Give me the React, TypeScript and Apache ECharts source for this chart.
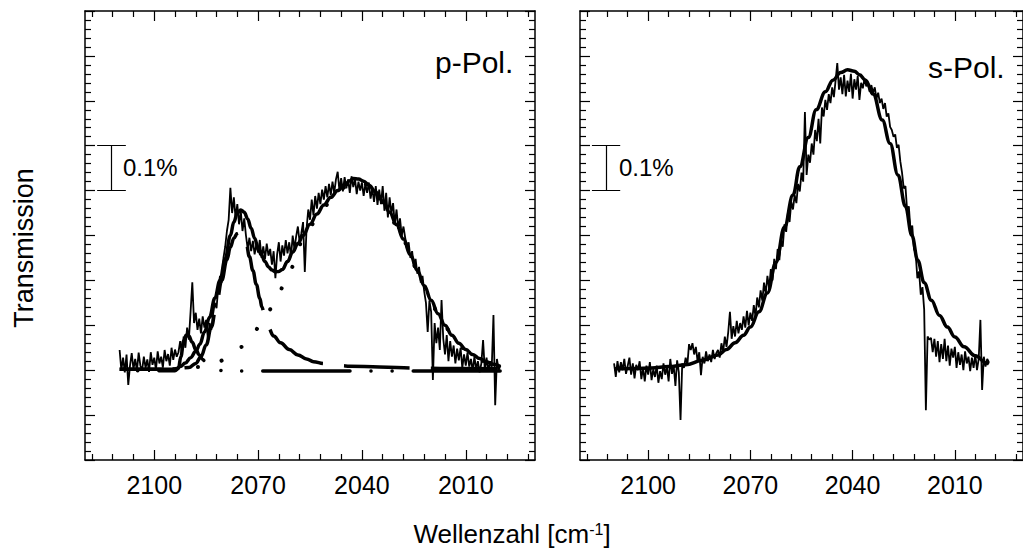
import React, { useEffect, useRef } from "react";
import * as echarts from "echarts";

// ---- data -------------------------------------------------------------
// wavenumber grid of the measured spectra (cm^-1), 0.5 cm^-1 steps
const waveStart = 2110;
const waveStep = -0.5;

// measured p-polarised spectrum (units of 0.01 %), 2110 -> 2000
const pPolMeasured = [
  24.5, 20.0, 22.8, 19.5, 23.5, 16.7, 21.0, 23.8, 20.2, 22.5, 19.8, 23.9, 21.0, 20.0, 23.0, 20.5, 22.4, 19.6, 24.0, 21.2,
  22.8, 20.1, 24.2, 21.5, 23.0, 20.6, 24.5, 22.0, 23.6, 21.0, 25.0, 22.3, 24.6, 23.0,
  24.0, 26.5, 23.8, 27.5, 25.0, 29.5, 26.8, 33.0, 39.6, 30.5, 32.8, 29.0, 31.5, 28.2, 32.0, 29.5, 31.2, 27.0, 30.5, 29.0,
  32.5, 35.0, 33.8, 38.5, 41.0, 39.5, 45.0, 47.5, 51.0, 53.5, 60.6, 55.0, 58.5, 53.8, 57.0, 52.5, 55.5, 51.0, 53.8,
  50.0, 47.0, 49.5, 46.5, 48.8, 45.8, 48.0, 46.2, 49.0, 45.0, 47.6, 44.8, 48.2, 45.5, 47.0, 43.5, 46.5, 40.5, 45.8, 48.5,
  44.2, 47.8, 45.5, 49.0, 46.0, 48.5, 45.2, 50.0, 47.0, 49.8, 52.0, 48.5,
  50.5, 53.0, 41.9, 51.5, 55.8, 53.5, 58.0, 54.5, 58.8, 56.0, 59.5, 57.0, 60.2, 58.0, 61.0, 58.5, 61.5, 59.0, 62.0, 59.5,
  62.5, 64.2, 60.0, 62.8, 59.8, 63.0, 60.5, 62.5, 59.5, 63.2, 60.8, 62.6, 59.2, 62.0, 60.0, 61.8,
  58.8, 61.5, 59.5, 61.8, 58.2, 60.5, 57.5, 61.0, 56.8, 60.2, 57.0, 61.0, 55.5, 59.5, 54.0, 58.5, 55.0, 57.2, 52.5, 55.8,
  51.5, 53.8, 50.0, 52.0,
  49.5, 47.0, 48.5, 45.0, 46.5, 43.2, 44.8, 41.5, 43.0, 39.5, 41.0, 37.5, 35.0, 28.5, 35.5, 33.0,
  17.8, 30.5, 26.0, 29.5, 24.5, 35.6, 27.0, 23.5, 27.8, 22.0, 26.5, 23.0, 25.5, 21.5, 24.8, 22.2, 25.0, 20.5, 23.5, 21.0,
  24.0, 20.8, 22.5, 19.8, 23.0, 20.2, 22.0, 19.5, 21.5, 26.7, 20.0, 22.8, 19.8, 22.0, 20.5, 32.3, 12.2, 22.5, 20.0, 21.0,
];

// measured s-polarised spectrum (units of 0.01 %), 2110 -> 2000
const sPolMeasured = [
  21.5, 18.5, 22.0, 19.5, 21.8, 20.0, 22.5, 19.2, 21.0, 22.8, 19.0, 21.5, 18.2, 21.2, 20.0, 22.0, 18.0, 20.5, 17.5, 21.0,
  19.0, 21.8, 17.8, 20.2, 18.5, 21.0, 17.2, 19.8, 18.0, 21.5, 19.0, 20.8, 17.5, 22.5, 19.2, 21.0, 16.5, 22.2, 19.5, 8.9,
  21.5, 20.5, 22.8, 21.2, 25.8, 24.5, 26.0, 23.5, 25.2, 22.0, 24.0, 18.9, 23.0, 21.5, 24.2, 22.0, 23.5, 21.8, 24.5, 22.5,
  23.8,
  24.5, 22.8, 26.0, 24.0, 27.5, 25.2, 28.5, 33.0, 27.0, 29.8, 27.5, 31.0, 28.2, 30.5, 29.0, 32.0, 29.5, 33.2, 30.0, 32.8,
  31.0,
  34.5, 32.0, 36.2, 34.0, 37.8, 35.5, 39.5, 37.0, 41.0, 38.2, 42.5, 40.0, 44.8, 42.5, 47.0, 44.5, 49.0, 47.5,
  52.5, 50.8, 55.0, 53.0, 57.5, 55.8, 59.0, 57.2, 61.5, 59.8, 64.0, 62.0, 77.5, 63.5, 68.0, 66.2, 70.5, 68.0, 73.5, 71.0,
  76.0, 70.5, 78.5, 76.5, 80.2, 78.0, 81.5, 79.5, 83.0, 80.8, 84.5, 88.4, 82.5, 85.2, 81.5,
  85.8, 81.0, 84.5, 82.0, 86.0, 80.5, 84.8, 82.5, 85.5, 80.2, 84.0, 82.8, 85.0, 83.2, 84.2, 82.0,
  83.5, 81.8, 83.0, 80.5, 81.8, 79.5, 80.5, 78.2, 79.5, 76.5, 77.2, 74.2, 73.5, 72.0, 72.5, 69.5, 70.2, 66.5,
  64.0, 60.5, 61.0, 55.5, 56.5, 51.0, 52.2, 47.0, 46.0, 40.5, 42.0, 36.8, 38.5, 33.5, 11.1,
  27.5, 26.8, 27.2, 24.0, 27.0, 23.0, 26.5, 21.8, 25.8, 22.5, 27.0, 22.0, 25.5, 21.0, 24.8, 22.8, 25.2, 20.5, 24.0, 21.2,
  23.5, 20.0, 24.2, 21.5, 23.0, 19.8, 22.8, 20.5, 23.5, 20.0, 22.5, 31.2, 15.6, 23.0, 20.8, 22.5, 21.8,
];

// fitted curves [wavenumber, value]
const pPolFit = [
  [2110, 20.2], [2100, 20.2], [2095, 20.2], [2093.5, 20.4], [2092.5, 20.8], [2091, 21.6], [2089.5, 22.8],
  [2088, 24.2], [2086.8, 25.8], [2085.5, 28.5], [2084, 31.8], [2082.5, 36.0], [2081, 40.0], [2079.5, 44.8],
  [2078, 50.0], [2077, 53.0], [2076, 55.0], [2075, 55.7], [2074, 55.2], [2073, 53.7], [2072, 51.6],
  [2071, 49.4], [2070, 47.2], [2069, 45.6], [2068, 44.2], [2067, 43.0], [2066, 42.3], [2065, 41.9],
  [2064, 42.0], [2063, 42.4], [2061.5, 44.2], [2060, 46.3], [2058.5, 48.2], [2057, 50.0], [2055, 52.5],
  [2053, 54.8], [2051, 56.8], [2049, 58.5], [2047, 60.0], [2045, 61.3], [2043.5, 62.2], [2042.5, 62.7],
  [2041, 62.6], [2039.5, 62.1], [2038, 61.2], [2036, 59.7], [2034, 57.7], [2032, 55.2], [2030, 52.4],
  [2028, 49.2], [2026, 45.7], [2024, 42.2], [2022, 38.8], [2020, 35.6], [2018, 32.6], [2016, 30.0],
  [2014, 27.8], [2012, 26.0], [2010, 24.6], [2008, 23.5], [2006, 22.6], [2004, 21.9], [2002, 21.3], [2000, 20.8],
];

// component: narrow band near 2075 cm^-1
const pPolBandNarrow = [
  [2110, 20.2], [2095, 20.2], [2090, 20.6], [2088, 21.5], [2086.5, 23.0], [2085, 25.6], [2083.5, 29.6],
  [2082, 34.8], [2080.5, 40.0], [2079, 44.6], [2078, 47.4], [2077, 49.4], [2076, 50.5], [2075, 50.9],
  [2074.4, 50.7], [2073.5, 48.6], [2072.5, 45.3], [2071.5, 42.2], [2070.5, 39.1], [2069.5, 36.0],
  [2068.9, 34.1], [2068, 31.5], [2067, 29.4], [2065.5, 27.6], [2063.5, 26.1], [2061, 24.6], [2058.5, 23.4],
  [2056, 22.5], [2054, 21.9], [2051, 21.5], [2049.5, 21.2], [2046, 21.0], [2043.5, 20.9], [2035, 20.7],
  [2025, 20.5], [2015, 20.4], [2000, 20.3],
];

// component: broad band near 2042 cm^-1
const pPolBandBroad = [
  [2110, 20.2], [2095, 20.2], [2090, 20.4], [2087.4, 20.7], [2084, 21.3], [2081.3, 22.0], [2078, 23.3],
  [2074.6, 25.2], [2072, 27.2], [2069.7, 29.6], [2067.5, 32.2], [2065.7, 34.5], [2064, 37.0], [2062.5, 39.2],
  [2061, 41.4], [2059.6, 43.6], [2057, 49.4], [2055, 51.9], [2053, 54.2], [2051, 56.2], [2049, 57.9],
  [2047, 59.4], [2045, 60.7], [2043, 61.7], [2041, 62.0], [2039.5, 61.7], [2038, 60.9], [2036, 59.4],
  [2034, 57.4], [2032, 55.0], [2030, 52.1], [2028, 49.0], [2026, 45.5], [2024, 42.0], [2022, 38.6],
  [2020, 35.4], [2018, 32.4], [2016, 29.8], [2014, 27.6], [2012, 25.8], [2010, 24.4], [2008, 23.3],
  [2006, 22.4], [2004, 21.7], [2002, 21.1], [2000, 20.6],
];

// component: small band near 2091 cm^-1
const pPolBandSmall = [
  [2110, 19.9], [2094, 19.9], [2093, 20.4], [2092.3, 23.0], [2091.5, 26.5], [2090.8, 27.8], [2090, 27.6],
  [2089, 26.2], [2088, 24.6], [2087, 23.4], [2086, 22.4], [2085, 21.4], [2084, 20.6], [2082, 20.0],
  [2078, 19.8], [2000, 19.8],
];

const sPolFit = [
  [2110, 20.3], [2104, 20.4], [2099, 20.5], [2094, 20.8], [2089, 21.2], [2084, 22.2], [2079.5, 23.4],
  [2077, 24.6], [2074.5, 26.1], [2072, 27.8], [2070, 29.6], [2067.5, 33.0], [2065, 37.2], [2062.5, 44.0],
  [2060, 51.9], [2057.5, 59.0], [2055.5, 65.3], [2053, 71.8], [2050.7, 78.0], [2048, 82.0], [2045.8, 84.6],
  [2043.5, 86.3], [2041.5, 86.9], [2039.5, 86.6], [2038, 85.8], [2036.2, 84.6], [2034, 81.5], [2031.3, 75.7],
  [2029, 70.5], [2026.7, 63.5], [2024.5, 56.5], [2022.6, 50.0], [2020.9, 44.5], [2019, 39.5], [2016.9, 35.6],
  [2014.5, 32.2], [2012.2, 29.6], [2010, 27.4], [2007.3, 25.2], [2004, 23.2], [2000.7, 21.6], [2000, 21.4],
];

// axis ticks (cm^-1)
const xMajorTicks = [2010, 2040, 2070, 2100];
const xMinorTicks = [1992, 1998, 2004, 2016, 2022, 2028, 2034, 2046, 2052, 2058, 2064, 2076, 2082, 2088, 2094, 2106, 2112, 2118];
const xRange = [1990, 2120];
const yRange = [0, 100];

// 0.1 % scale bar [wavenumber, value]
const scaleBarX = 2112.3;
const scaleBarCaps = [2116.5, 2108.2];
const scaleBarValues = [60, 70];

// ---- chart ------------------------------------------------------------
const FONT = "'Liberation Sans', Arial, Helvetica, sans-serif";
const BLACK = "#000";

const toSeries = (values: number[]) => values.map((v, i) => [waveStart + i * waveStep, v]);

function buildOption() {
  const axisLine = { show: true, lineStyle: { color: BLACK, width: 1.5 } };
  const tickLine = { color: BLACK, width: 1.2 };
  const xAxes: any[] = [];
  const yAxes: any[] = [];
  [0, 1].forEach((g) => {
    const base = {
      type: "value",
      gridIndex: g,
      min: xRange[0],
      max: xRange[1],
      inverse: true,
      splitLine: { show: false },
    };
    xAxes.push(
      {
        ...base,
        position: "bottom",
        axisLine,
        axisTick: { show: true, inside: true, length: 10, customValues: xMajorTicks, lineStyle: tickLine },
        axisLabel: {
          show: true,
          customValues: xMajorTicks,
          formatter: (v: number) => String(v),
          color: BLACK,
          fontSize: 25,
          fontFamily: FONT,
          margin: 12,
        },
      },
      {
        ...base,
        position: "bottom",
        axisLine: { show: false },
        axisTick: { show: true, inside: true, length: 6, customValues: xMinorTicks, lineStyle: tickLine },
        axisLabel: { show: false },
      },
      {
        ...base,
        position: "top",
        axisLine,
        axisTick: { show: true, inside: true, length: 10, customValues: xMajorTicks, lineStyle: tickLine },
        axisLabel: { show: false },
      },
      {
        ...base,
        position: "top",
        axisLine: { show: false },
        axisTick: { show: true, inside: true, length: 6, customValues: xMinorTicks, lineStyle: tickLine },
        axisLabel: { show: false },
      }
    );
    ["left", "right"].forEach((pos) => {
      yAxes.push({
        type: "value",
        gridIndex: g,
        position: pos,
        min: yRange[0],
        max: yRange[1],
        interval: 10,
        axisLine,
        axisTick: { show: true, inside: true, length: 10, lineStyle: tickLine },
        minorTick: { show: true, splitNumber: 5, length: 6, lineStyle: tickLine },
        axisLabel: { show: false },
        splitLine: { show: false },
        minorSplitLine: { show: false },
      });
    });
  });

  const line = (g: number, data: any[], width: number, extra: any = {}) => ({
    type: "line",
    xAxisIndex: g * 4,
    yAxisIndex: g * 2,
    data,
    showSymbol: false,
    symbol: "none",
    silent: true,
    lineStyle: { color: BLACK, width, ...(extra.lineStyle || {}) },
    smooth: extra.smooth ?? false,
    smoothMonotone: "x",
    z: extra.z ?? 2,
  });

  const scaleBar = (g: number) => ({
    type: "lines",
    coordinateSystem: "cartesian2d",
    xAxisIndex: g * 4,
    yAxisIndex: g * 2,
    silent: true,
    lineStyle: { color: BLACK, width: 1.2, opacity: 1 },
    data: [
      { coords: [[scaleBarX, scaleBarValues[0]], [scaleBarX, scaleBarValues[1]]] },
      { coords: [[scaleBarCaps[0], scaleBarValues[0]], [scaleBarCaps[1], scaleBarValues[0]]] },
      { coords: [[scaleBarCaps[0], scaleBarValues[1]], [scaleBarCaps[1], scaleBarValues[1]]] },
    ],
  });

  const series = [
    line(0, toSeries(pPolMeasured), 1.8),
    line(0, pPolBandSmall, 3.5, { smooth: 0.4, z: 3, lineStyle: { type: [87, 21, 0.1, 21, 0.1, 21], dashOffset: 111, cap: "round" } }),
    line(0, pPolBandNarrow, 3.5, { smooth: 0.4, z: 3, lineStyle: { type: [66, 21], dashOffset: 22, cap: "butt" } }),
    line(0, pPolBandBroad, 4, { smooth: 0.4, z: 3, lineStyle: { type: [0.1, 24.5], dashOffset: 20, cap: "round" } }),
    line(0, pPolFit, 3.5, { smooth: 0.4, z: 4 }),
    scaleBar(0),
    line(1, toSeries(sPolMeasured), 1.8),
    line(1, sPolFit, 3.5, { smooth: 0.4, z: 4 }),
    scaleBar(1),
  ];

  const text = (x: number, y: number, str: string, size: number, extra: any = {}) => ({
    type: "text",
    x,
    y,
    silent: true,
    ...extra,
    style: {
      text: str,
      fontSize: size,
      fontFamily: FONT,
      fill: BLACK,
      align: extra.align || "left",
      verticalAlign: "middle",
      textAlign: extra.align || "left",
      textVerticalAlign: "middle",
      ...(extra.style || {}),
    },
  });

  const graphic = [
    text(123, 167, "0.1%", 24),
    text(619, 167, "0.1%", 24),
    text(435, 62, "p-Pol.", 30),
    text(928, 67, "s-Pol.", 30),
    { ...text(24, 248, "Transmission", 27, { align: "center" }), rotation: Math.PI / 2 },
    {
      type: "text",
      x: 512,
      y: 534,
      silent: true,
      style: {
        text: "{a|Wellenzahl [cm}{b|-1}{a|]}",
        align: "center",
        verticalAlign: "middle",
        textAlign: "center",
        textVerticalAlign: "middle",
        fill: BLACK,
        rich: {
          a: { fontSize: 26, fontFamily: FONT, fill: BLACK, color: BLACK },
          b: { fontSize: 16, fontFamily: FONT, fill: BLACK, color: BLACK, verticalAlign: "top" },
        },
      },
    },
  ];

  return {
    animation: false,
    backgroundColor: "#fff",
    grid: [
      { left: 85, top: 11, width: 450, height: 449, containLabel: false },
      { left: 580, top: 11, width: 450, height: 449, containLabel: false },
    ],
    xAxis: xAxes,
    yAxis: yAxes,
    series,
    graphic,
  };
}

export default function App() {
  const ref = useRef<HTMLDivElement | null>(null);
  useEffect(() => {
    if (!ref.current) return;
    const chart = echarts.init(ref.current, undefined, { renderer: "svg" });
    chart.setOption(buildOption() as any);
    return () => chart.dispose();
  }, []);
  return (
    <div
      ref={ref}
      style={{ position: "absolute", left: 0, top: 0, width: 1023, height: 551, background: "#fff" }}
    />
  );
}
